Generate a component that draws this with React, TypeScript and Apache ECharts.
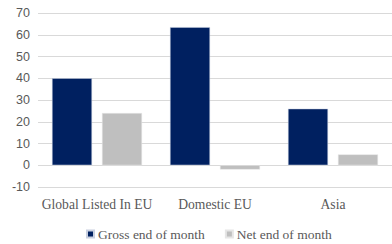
import React, { useEffect, useRef } from "react";
import * as echarts from "echarts";

const categories = ["Global Listed In EU", "Domestic EU", "Asia"];
const grossValues = [40, 63.5, 26];
const netValues = [24, -2, 5];
const seriesNames = ["Gross end of month", "Net end of month"];

export default function App() {
  const ref = useRef<HTMLDivElement>(null);
  useEffect(() => {
    const chart = echarts.init(ref.current!, null, { renderer: "svg" });
    chart.setOption({
      animation: false,
      grid: { left: 38, right: -4, top: 13, bottom: 57, containLabel: false },
      legend: {
        bottom: -2,
        left: 81,
        itemWidth: 7,
        itemHeight: 7,
        itemGap: 20,
        icon: "rect",
        textStyle: { fontFamily: "Liberation Serif", fontSize: 13.5, color: "#595959", padding: [0, 0, 0, -1] },
        data: seriesNames,
      },
      xAxis: {
        type: "category",
        data: categories,
        axisLine: { show: false },
        axisTick: { show: false },
        axisLabel: { fontFamily: "Liberation Serif", fontSize: 13.6, color: "#595959", margin: 10, interval: 0 },
      },
      yAxis: {
        type: "value",
        min: -10,
        max: 70,
        interval: 10,
        axisLine: { show: false },
        axisTick: { show: false },
        splitLine: { lineStyle: { color: "#d9d9d9", width: 1 } },
        axisLabel: { fontFamily: "Liberation Sans", fontSize: 12.5, color: "#595959", margin: 8 },
      },
      series: [
        {
          name: seriesNames[0],
          type: "bar",
          data: grossValues,
          barWidth: 40,
          barGap: "25%",
          itemStyle: { color: "#002060", borderColor: "#c9d0e0", borderWidth: 0.5 },
        },
        {
          name: seriesNames[1],
          type: "bar",
          data: netValues,
          barWidth: 40,
          itemStyle: { color: "#bfbfbf", borderColor: "#e6e6e6", borderWidth: 0.5 },
        },
      ],
    });
    return () => chart.dispose();
  }, []);
  return (
    <div style={{ position: "absolute", left: 0, top: 0, width: 392, height: 244, overflow: "hidden" }}>
      <div ref={ref} style={{ width: 392, height: 244 }} />
    </div>
  );
}
